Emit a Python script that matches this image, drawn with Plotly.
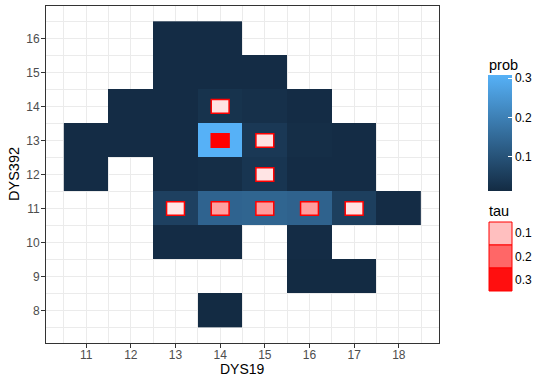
import plotly.graph_objects as go

# Tile grid: DYS19 (x), DYS392 (y) and the estimated probability of each cell
dys19 = [13, 14,
         13, 14, 15,
         12, 13, 14, 15, 16,
         11, 12, 13, 14, 15, 16, 17,
         11, 13, 14, 15, 16, 17,
         13, 14, 15, 16, 17, 18,
         13, 14, 16,
         16, 17,
         14]
dys392 = [16, 16,
          15, 15, 15,
          14, 14, 14, 14, 14,
          13, 13, 13, 13, 13, 13, 13,
          12, 12, 12, 12, 12, 12,
          11, 11, 11, 11, 11, 11,
          10, 10, 10,
          9, 9,
          8]
prob = [0.016, 0.016,
        0.016, 0.016, 0.016,
        0.016, 0.016, 0.030, 0.025, 0.016,
        0.016, 0.016, 0.016, 0.308, 0.042, 0.020, 0.016,
        0.016, 0.016, 0.020, 0.036, 0.016, 0.016,
        0.060, 0.137, 0.140, 0.135, 0.058, 0.016,
        0.016, 0.016, 0.016,
        0.013, 0.013,
        0.013]

# Cells carrying a tau value
tau_x = [14, 14, 15, 15, 13, 14, 15, 16, 17]
tau_y = [14, 13, 13, 12, 11, 11, 11, 11, 11]
tau = [0.060, 0.317, 0.062, 0.058, 0.0565, 0.135, 0.140, 0.137, 0.059]

prob_ticks = [0.1, 0.2, 0.3]
tau_breaks = [0.1, 0.2, 0.3]
x_ticks = list(range(11, 19))
y_ticks = list(range(8, 17))

LOW, HIGH = "#132B43", "#56B1F7"
FONT = "Liberation Sans"

# Build the heatmap matrix
xs = sorted(set(dys19))
ys = sorted(set(dys392))
z = [[None for _ in xs] for _ in ys]
for a, b, p in zip(dys19, dys392, prob):
    z[ys.index(b)][xs.index(a)] = p
zmin, zmax = min(prob), max(prob)

# Plot area in pixels
W, H = 535, 377
ML, MR, MT, MB = 46, 96, 6, 34
PW, PH = W - ML - MR, H - MT - MB


def px(x):
    return (x - ML) / PW


def py(y):
    return (H - MB - y) / PH


# Colour bar geometry (pixels)
CB_LEFT, CB_TOP, CB_LEN, CB_W = 488, 75, 116, 23.5

fig = go.Figure()
fig.add_trace(go.Heatmap(
    x=xs, y=ys, z=z, zmin=zmin, zmax=zmax,
    colorscale=[[0, LOW], [1, HIGH]],
    hoverongaps=False,
    colorbar=dict(
        x=px(CB_LEFT), xanchor="left", xref="paper",
        y=py(CB_TOP + CB_LEN / 2), yanchor="middle", yref="paper",
        len=CB_LEN, lenmode="pixels", thickness=CB_W, thicknessmode="pixels",
        outlinewidth=0, xpad=0, ypad=0,
        tickvals=prob_ticks, ticktext=[str(v) for v in prob_ticks],
        ticks="inside", ticklen=4, tickcolor="white", tickwidth=1,
        tickfont=dict(family=FONT, size=12, color="black"),
    ),
))

shapes = []
tmin, tmax = min(tau), max(tau)


def tau_fill(t):
    a = 0.1 + 0.9 * (t - tmin) / (tmax - tmin)
    g = round(255 * (1 - a))
    return f"rgb(255,{g},{g})"


# tau markers: small squares centred in their cells
for a, b, t in zip(tau_x, tau_y, tau):
    shapes.append(dict(type="rect", xref="x", yref="y",
                       x0=a - 0.2, x1=a + 0.2, y0=b - 0.2, y1=b + 0.2,
                       fillcolor=tau_fill(t), line=dict(color="#ff0000", width=1.5)))

# colour bar ticks on the left edge as well
for v in prob_ticks:
    yy = CB_TOP + CB_LEN * (1 - (v - zmin) / (zmax - zmin))
    shapes.append(dict(type="line", xref="paper", yref="paper",
                       x0=px(CB_LEFT), x1=px(CB_LEFT + 4), y0=py(yy), y1=py(yy),
                       line=dict(color="white", width=1)))

# tau legend keys
KEY_TOP, KEY_H = 222, 23
for i, t in enumerate(tau_breaks):
    y0 = KEY_TOP + i * KEY_H
    shapes.append(dict(type="rect", xref="paper", yref="paper",
                       x0=px(489), x1=px(512), y0=py(y0 + KEY_H), y1=py(y0),
                       fillcolor=tau_fill(t), line=dict(color="#ff0000", width=1)))

TITLE_FONT = dict(family=FONT, size=14.5, color="black")
annotations = [
    dict(text="prob", x=px(487), y=py(65), xref="paper", yref="paper",
         xanchor="left", yanchor="middle", showarrow=False, font=TITLE_FONT),
    dict(text="tau", x=px(487), y=py(211), xref="paper", yref="paper",
         xanchor="left", yanchor="middle", showarrow=False, font=TITLE_FONT),
    # axis titles
    dict(text="DYS19", x=0.5, y=py(368.5), xref="paper", yref="paper", borderpad=0,
         xanchor="center", yanchor="middle", showarrow=False,
         font=dict(family=FONT, size=14, color="black")),
    dict(text="DYS392", x=px(13.5), y=0.5, xref="paper", yref="paper", textangle=-90,
         xanchor="center", yanchor="middle", showarrow=False, font=TITLE_FONT),
]
for i, t in enumerate(tau_breaks):
    annotations.append(dict(text=str(t), x=px(513), y=py(KEY_TOP + i * KEY_H + KEY_H / 2),
                            xref="paper", yref="paper", xanchor="left", yanchor="middle",
                            showarrow=False, font=dict(family=FONT, size=12, color="black")))

axis_common = dict(
    showline=True, linecolor="#333333", linewidth=1, mirror=True,
    showgrid=True, gridcolor="#ebebeb", gridwidth=1, zeroline=False,
    ticks="outside", ticklen=4, tickcolor="#333333", tickwidth=1,
    tickfont=dict(family=FONT, size=12, color="#4d4d4d"),
    minor=dict(dtick=0.5, showgrid=True, gridcolor="#ebebeb", gridwidth=0.5),
    automargin=False,
)

fig.update_layout(
    width=W, height=H,
    margin=dict(l=ML, r=MR, t=MT, b=MB, autoexpand=False),
    paper_bgcolor="white", plot_bgcolor="white",
    font=dict(family=FONT),
    shapes=shapes, annotations=annotations,
    xaxis=dict(range=[10.1, 18.9], tickmode="array", tickvals=x_ticks,
               ticklabelstandoff=-3, **axis_common),
    yaxis=dict(range=[7.05, 16.95], tickmode="array", tickvals=y_ticks,
               ticklabelstandoff=-1, **axis_common),
)

fig.write_html("out.html")
